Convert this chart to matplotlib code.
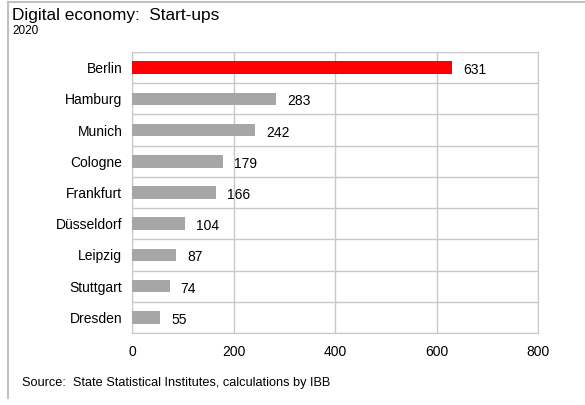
import numpy as np
import matplotlib.pyplot as plt

cities = ['Berlin', 'Hamburg', 'Munich', 'Cologne', 'Frankfurt',
          'Düsseldorf', 'Leipzig', 'Stuttgart', 'Dresden']
startups = [631, 283, 242, 179, 166, 104, 87, 74, 55]
xticks = [0, 200, 400, 600, 800]

plt.rc('font', family='Liberation Sans')

fig = plt.figure(figsize=(5.85, 4.05), dpi=100)
W, H = 585, 405
ax = fig.add_axes([132/W, 1 - 333/H, (538-132)/W, (333-52)/H])

y = np.arange(len(cities))
colors = ['#ff0000'] + ['#a6a6a6'] * (len(cities) - 1)
ax.barh(y, startups, height=0.4, color=colors, zorder=3)
for yi, v in zip(y, startups):
    ax.text(v + 22, yi + 0.08, str(v), va='center', ha='left', fontsize=10)

ax.set_xlim(0, 800)
ax.set_ylim(len(cities) - 0.5, -0.5)
ax.set_xticks(xticks)
ax.set_xticklabels([str(t) for t in xticks], fontsize=10)
ax.set_yticks(y)
ax.set_yticklabels(cities, fontsize=10)
ax.tick_params(length=0)
ax.tick_params(axis='y', pad=7)
ax.tick_params(axis='x', pad=8.5)

# vertical grid and category separators
for t in xticks:
    ax.axvline(t, color='#c8c8c8', lw=1, zorder=1)
for b in np.arange(len(cities) + 1) - 0.5:
    ax.axhline(b, color='#c8c8c8', lw=1, zorder=1)
for s in ax.spines.values():
    s.set_color('#c8c8c8')

fig.text(12/W, 1 - 20/H, 'Digital economy:  Start-ups', fontsize=12.4, va='baseline')
fig.text(12/W, 1 - 34/H, '2020', fontsize=8.5, va='baseline')
fig.text(22/W, 1 - 383/H, 'Source:  State Statistical Institutes, calculations by IBB',
         fontsize=9.2, va='center')

# outer frame, top and left edges
fig.add_artist(plt.Line2D([8/W, 1], [1 - 2/H, 1 - 2/H], color='#c0c0c0', lw=1.5))
fig.add_artist(plt.Line2D([8/W, 8/W], [1 - 2/H, 1 - 398/H], color='#c0c0c0', lw=1.5))

fig.savefig('out.png', dpi=100)
